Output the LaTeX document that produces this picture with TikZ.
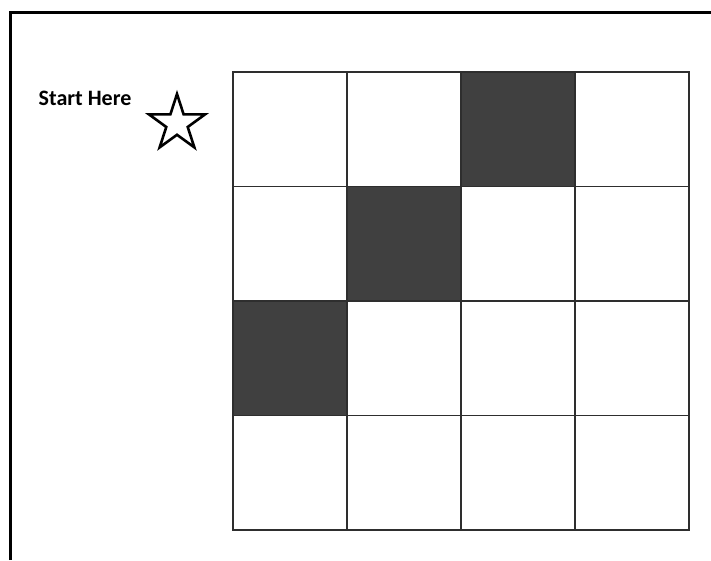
\documentclass[tikz,border=0pt]{standalone}
\usepackage{fontspec}
\setmainfont{Carlito}
\usetikzlibrary{shapes.geometric}
\definecolor{darkcell}{HTML}{404040}
\definecolor{gridline}{HTML}{2E2E2E}
\begin{document}
\begin{tikzpicture}[x=1pt,y=-1pt,
  cell/.style={draw=gridline,line width=1.6pt,minimum width=114pt,minimum height=114.5pt,inner sep=0pt,anchor=north west},
  darkfill/.style={fill=darkcell},
  frameline/.style={line width=2.4pt,black},
  label/.style={font=\bfseries\fontsize{22}{25}\selectfont,anchor=base west,inner sep=0pt},
  starshape/.style={star,star points=5,star point ratio=2.618,minimum size=59pt,inner sep=0pt,draw=black,line width=2.6pt}]
\useasboundingbox (0,0) rectangle (711,560);
\fill[white] (0,0) rectangle (711,560);
\coordinate (ftl) at (10.5,12.5);
\coordinate (fr) at (711,12.5);
\coordinate (fb) at (10.5,560);
\draw[frameline] (fb) -- (ftl) -- (fr);
\foreach \r in {0,1,2,3}{
  \foreach \c in {0,1,2,3}{
    \node[cell] (c\r\c) at ({232+114*\c},{71+114.5*\r}) {};
  }
}
\node[cell,darkfill] (d02) at (c02.north west) {};
\node[cell,darkfill] (d11) at (c11.north west) {};
\node[cell,darkfill] (d20) at (c20.north west) {};
\node[label] (start) at (38.5,105) {Start Here};
\node[starshape] (star) at (177,123.5) {};
\end{tikzpicture}
\end{document}
